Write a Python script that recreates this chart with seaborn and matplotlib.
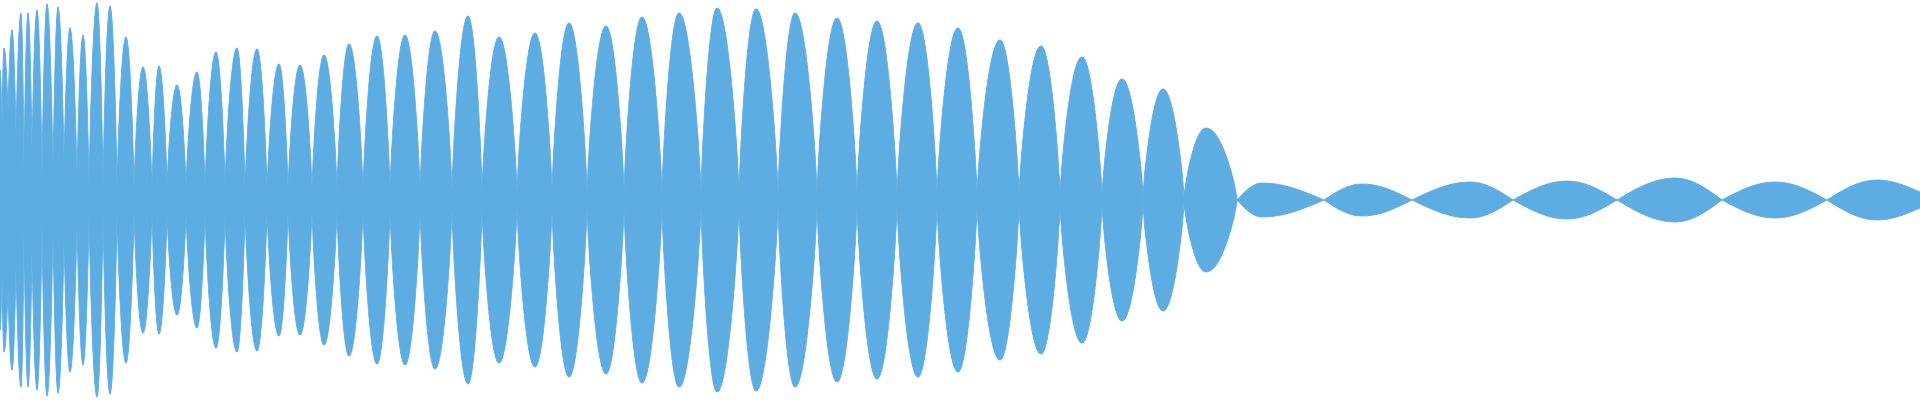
import numpy as np
import seaborn as sns
import matplotlib
matplotlib.use("Agg")
import matplotlib.pyplot as plt

sns.set_theme(style="white")

# envelope extrema: position along the track and half-amplitude
# (alternating troughs / crests, left to right)
positions = [0, 2, 4, 8, 12, 16, 21, 24, 28, 32, 37, 42, 47, 53, 58, 64, 70, 77,
             83, 89, 97, 103, 110, 117, 126, 134, 143, 152, 159, 167, 177, 186,
             197, 205, 216, 225, 237, 245, 257, 267, 279, 288, 300, 312, 324, 337,
             349, 363, 377, 390, 405, 420, 435, 452, 468, 482, 499, 517, 535, 552,
             569, 587, 606, 624, 642, 662, 679, 701, 717, 739, 756, 778, 795, 817,
             837, 857, 877, 897, 918, 937, 958, 977, 1000, 1019, 1041, 1060, 1082,
             1102, 1122, 1143, 1163, 1184, 1206, 1237, 1262, 1324, 1362, 1412,
             1470, 1513, 1567, 1617, 1675, 1722, 1775, 1827, 1877, 1920]
amplitudes = [130, 70, 152, 83, 170, 57, 187, 23, 187, 40, 190, 18, 196, 18, 193,
              30, 172, 13, 165, 8, 197, 8, 194, 10, 163, 10, 133, 7, 134, 12, 115,
              12, 128, 10, 148, 13, 152, 8, 151, 8, 136, 8, 135, 8, 145, 8, 156, 8,
              164, 8, 165, 8, 169, 8, 184, 7, 163, 7, 167, 7, 177, 7, 174, 6, 183,
              6, 187, 6, 192, 5, 191, 5, 187, 5, 182, 5, 179, 4, 177, 4, 172, 4,
              160, 4, 154, 4, 143, 3, 121, 3, 111, 2, 72, 0, 17, 0, 16, 0, 18, 0,
              19, 0, 22, 0, 18, 0, 20, 8]


def envelope(xs, px, py):
    # rounded lobes, pinched at the troughs (small tail lobes more lens-like)
    out = np.zeros_like(xs)
    for i in range(len(px) - 1):
        x0, x1, y0, y1 = px[i], px[i + 1], py[i], py[i + 1]
        p = 0.75 if max(y0, y1) > 50 else 1.0
        m = (xs >= x0) & (xs <= x1)
        t = (xs[m] - x0) / (x1 - x0)
        if y1 >= y0:
            out[m] = y0 + (y1 - y0) * np.sin(np.pi / 2 * t) ** p
        else:
            out[m] = y1 + (y0 - y1) * np.cos(np.pi / 2 * t) ** p
    return out


x = np.linspace(0, 1920, 7681)
env = envelope(x, positions, amplitudes)

color = "#5DADE2"
fig = plt.figure(figsize=(19.2, 4), dpi=100)
ax = fig.add_axes([0, 0, 1, 1])
ax.fill_between(x, -env, env, color=color, linewidth=0)
sns.lineplot(x=x, y=env, ax=ax, color=color, linewidth=0.6)
sns.lineplot(x=x, y=-env, ax=ax, color=color, linewidth=0.6)
ax.set_xlim(0, 1920)
ax.set_ylim(-200, 200)
ax.axis("off")
fig.savefig("out.png", dpi=100, facecolor="white")
